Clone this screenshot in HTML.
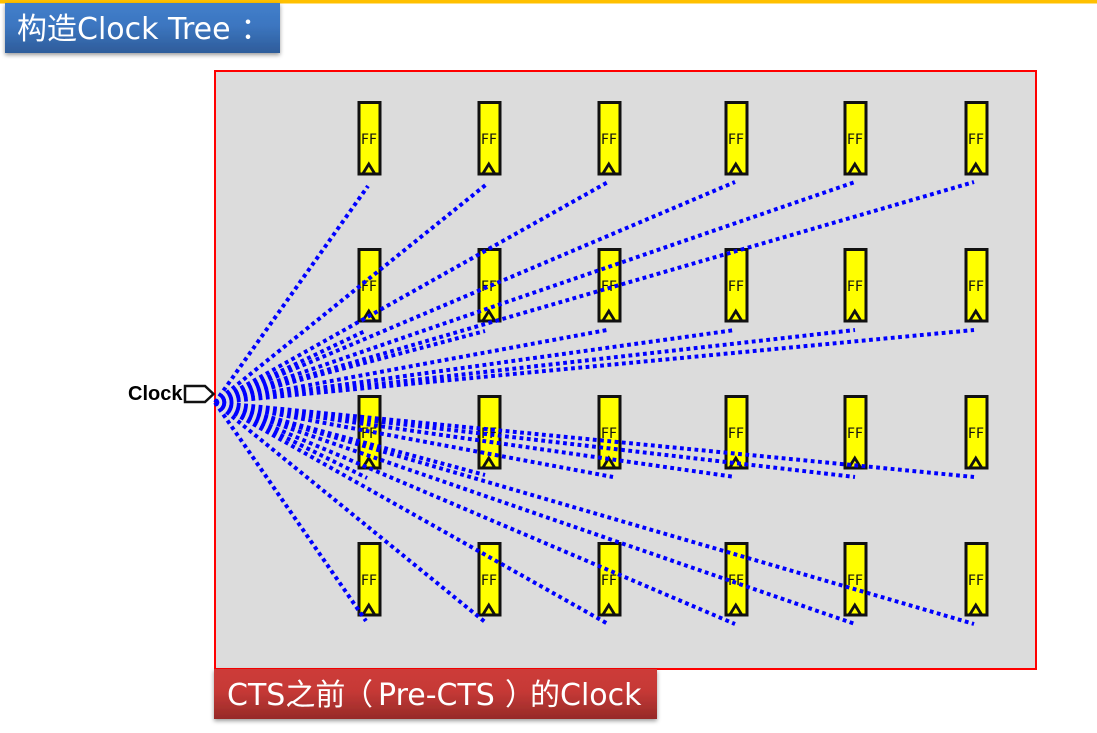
<!DOCTYPE html>
<html><head><meta charset="utf-8"><style>
html,body{margin:0;padding:0;background:#fff}
svg{display:block}
</style></head><body>
<svg xmlns="http://www.w3.org/2000/svg" width="1097" height="733" viewBox="0 0 1097 733">
<defs>
<linearGradient id="b" x1="0" y1="0" x2="0" y2="1"><stop offset="0" stop-color="#417ecb"/><stop offset=".45" stop-color="#3c76c0"/><stop offset="1" stop-color="#2e5c9a"/></linearGradient>
<linearGradient id="r" x1="0" y1="0" x2="0" y2="1"><stop offset="0" stop-color="#cd3b38"/><stop offset=".45" stop-color="#c53936"/><stop offset="1" stop-color="#962a28"/></linearGradient>
<filter id="s" x="-5%" y="-20%" width="110%" height="150%"><feDropShadow dx="0" dy="2" stdDeviation="2" flood-color="#000" flood-opacity=".4"/></filter>
<g id="ff">
<rect x="1" y="0.5" width="21" height="71.5" fill="#ff0" stroke="#111" stroke-width="3"/>
<path d="M5 71.5 L10.8 62 L16.6 71.5" fill="none" stroke="#111" stroke-width="2.8"/>
<text x="11" y="42" font-family="'DejaVu Sans',sans-serif" font-size="14" text-anchor="middle" fill="#111">FF</text>
</g>
</defs>
<rect x="0" y="0" width="1097" height="3.5" fill="#ffc000"/>
<rect x="215" y="71" width="821" height="598" fill="#dcdcdc" stroke="#f00" stroke-width="2"/>
<use href="#ff" x="358" y="102"/><use href="#ff" x="478" y="102"/><use href="#ff" x="598" y="102"/><use href="#ff" x="725" y="102"/><use href="#ff" x="844" y="102"/><use href="#ff" x="965" y="102"/>
<use href="#ff" x="358" y="249"/><use href="#ff" x="478" y="249"/><use href="#ff" x="598" y="249"/><use href="#ff" x="725" y="249"/><use href="#ff" x="844" y="249"/><use href="#ff" x="965" y="249"/>
<use href="#ff" x="358" y="396"/><use href="#ff" x="478" y="396"/><use href="#ff" x="598" y="396"/><use href="#ff" x="725" y="396"/><use href="#ff" x="844" y="396"/><use href="#ff" x="965" y="396"/>
<use href="#ff" x="358" y="543"/><use href="#ff" x="478" y="543"/><use href="#ff" x="598" y="543"/><use href="#ff" x="725" y="543"/><use href="#ff" x="844" y="543"/><use href="#ff" x="965" y="543"/>
<g stroke="#00f" stroke-width="4" stroke-dasharray="3.8 3.5" fill="none">
<path d="M215 402.500L368 186M215 402.500L488 183M215 402.500L608 182M215 402.500L735 182M215 402.500L855 182M215 402.500L974 182"/>
<path d="M215 402.500L365 331M215 402.500L485 331M215 402.500L607 330M215 402.500L735 330M215 402.500L855 330M215 402.500L974 330"/>
<path d="M215 402.500L367 478M215 402.500L485 475M215 402.500L613 477M215 402.500L735 477M215 402.500L855 477M215 402.500L974 477"/>
<path d="M215 402.500L366 621M215 402.500L485 622M215 402.500L608 624M215 402.500L735 624M215 402.500L855 624M215 402.500L974 624"/>
</g>
<path d="M185 386H205L213.500 394L205 402H185Z" fill="#fff" stroke="#111" stroke-width="2.500"/>
<text x="128" y="400" font-family="'Liberation Sans',sans-serif" font-weight="bold" font-size="20" fill="#000">Clock</text>
<rect x="5" y="3" width="275" height="50" fill="url(#b)" filter="url(#s)"/>
<text x="17" y="39" font-family="'DejaVu Sans','WenQuanYi Zen Hei',sans-serif" font-size="30" fill="#fff">构造Clock Tree<tspan dx="10">：</tspan></text>
<rect x="214" y="669" width="443" height="50" fill="url(#r)" filter="url(#s)"/>
<text x="227" y="705" font-family="'DejaVu Sans','WenQuanYi Zen Hei',sans-serif" font-size="30" fill="#fff">CTS之前<tspan x="343">（</tspan><tspan x="378">Pre-CTS</tspan><tspan x="505">）</tspan><tspan x="530">的Clock</tspan></text>
</svg>
</body></html>
